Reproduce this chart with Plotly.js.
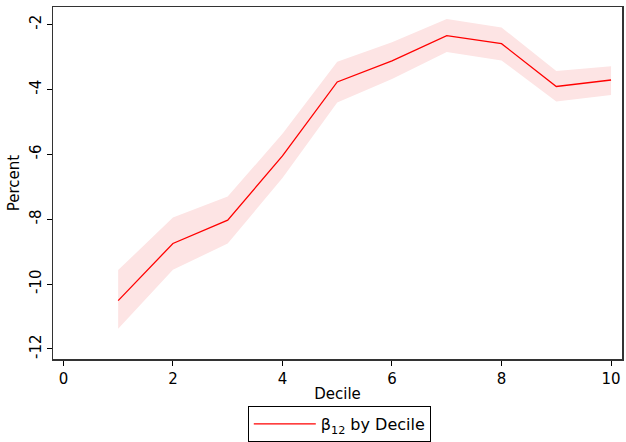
<!DOCTYPE html>
<html>
<head>
<meta charset="utf-8">
<script src="https://cdn.plot.ly/plotly-3.0.1.min.js"></script>
<style>html,body{margin:0;padding:0;background:#fff;}#chart{width:626px;height:442px;}</style>
</head>
<body>
<div id="chart"></div>
<script>
var deciles = [1, 2, 3, 4, 5, 6, 7, 8, 9, 10];
var beta = [-10.51, -8.75, -8.03, -6.05, -3.77, -3.12, -2.34, -2.59, -3.91, -3.71];
var upper = [-9.57, -7.95, -7.30, -5.37, -3.15, -2.55, -1.83, -2.09, -3.43, -3.29];
var lower = [-11.38, -9.56, -8.75, -6.73, -4.40, -3.68, -2.85, -3.11, -4.37, -4.17];
var xTicks = [0, 2, 4, 6, 8, 10];
var yTicks = [-12, -10, -8, -6, -4, -2];
var yTickText = ['-12', '-10', '-8', '-6', '-4', '-2'];

var bandX = deciles.concat(deciles.slice().reverse());
var bandY = upper.concat(lower.slice().reverse());

var traces = [
  {x: bandX, y: bandY, type: 'scatter', mode: 'lines', fill: 'toself',
   fillcolor: 'rgba(253,228,228,1)', line: {width: 0}, showlegend: false, hoverinfo: 'skip'},
  {x: deciles, y: beta, type: 'scatter', mode: 'lines', name: 'β<sub>12</sub> by Decile',
   line: {color: '#ff0000', width: 1.3}}
];

var layout = {
  width: 626, height: 442,
  paper_bgcolor: '#fff', plot_bgcolor: '#fff',
  font: {family: 'DejaVu Sans', size: 14, color: '#000'},
  margin: {l: 53, r: 4, t: 7, b: 83},
  xaxis: {range: [-0.19, 10.2], tickvals: xTicks, ticks: 'outside', ticklen: 5, tickcolor: '#000',
          showgrid: false, zeroline: false, showline: true, linecolor: '#333', linewidth: 1.5, mirror: true,
          title: {text: 'Decile', font: {size: 15}, standoff: 2}, tickfont: {size: 15}},
  yaxis: {range: [-12.31, -1.46], tickvals: yTicks, ticktext: yTickText, ticks: 'outside', ticklen: 5, tickcolor: '#000',
          tickangle: -90, showgrid: false, zeroline: false, showline: true, linecolor: '#333', linewidth: 1.5, mirror: true,
          title: {text: 'Percent', font: {size: 15}, standoff: 3}, tickfont: {size: 15}},
  showlegend: true,
  legend: {orientation: 'h', x: 0.542, xanchor: 'center', xref: 'container', y: 0, yanchor: 'bottom', yref: 'container',
           bordercolor: '#000', borderwidth: 1, font: {size: 16}, bgcolor: '#fff', itemwidth: 62}
};

Plotly.newPlot('chart', traces, layout, {displayModeBar: false, staticPlot: true});
</script>
</body>
</html>
